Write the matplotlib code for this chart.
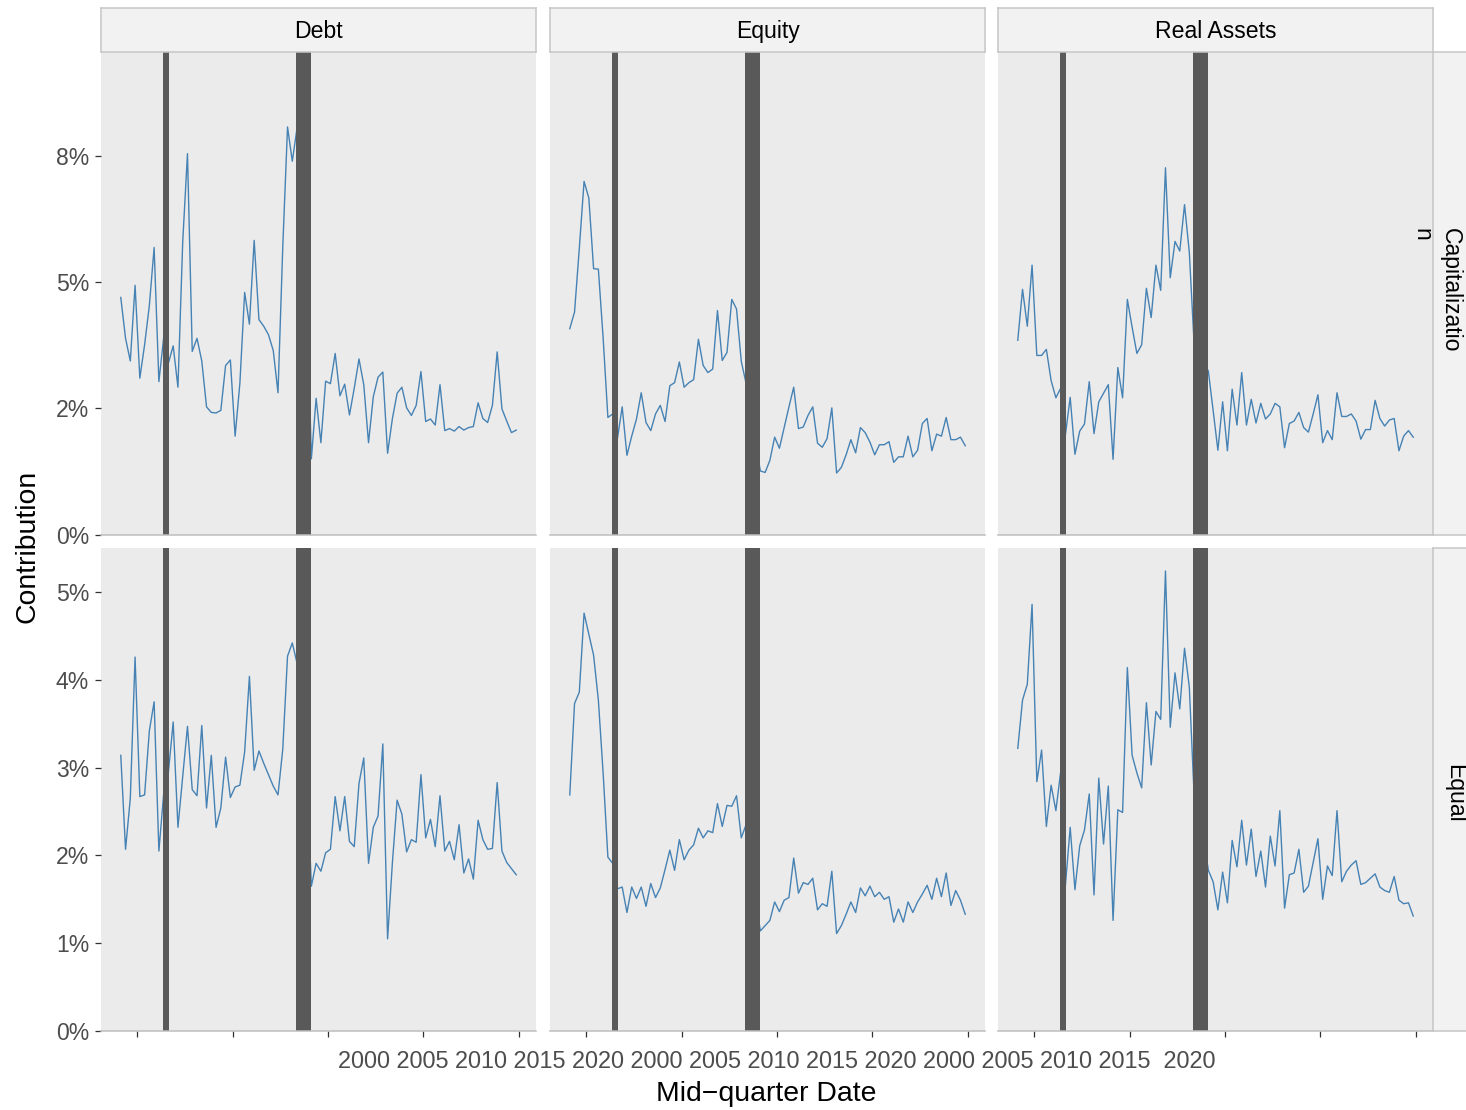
import numpy as np
import matplotlib
matplotlib.use("Agg")
import matplotlib.pyplot as plt
from matplotlib.ticker import FixedLocator, FuncFormatter, NullFormatter

plt.rcParams["font.family"] = ["Liberation Sans", "DejaVu Sans"]

W, H, DPI = 1466, 1110, 100

# ---- data -------------------------------------------------------------
asset_classes = ["Debt", "Equity", "Real Assets"]
weightings = ["Capitalizatio\nn", "Equal"]
year_ticks = [2000, 2005, 2010, 2015, 2020]
first_year = 1999          # first quarter 1999Q1, mid-quarter dates
n_quarters = 84            # through 2019Q4
recessions = [(2001.32, 2001.67), (2008.31, 2009.09)]

# contribution, in percent
debt_cap = [4.70, 3.89, 3.44, 4.94, 3.10, 3.76, 4.54, 5.69, 3.03, 3.90,
            3.40, 3.74, 2.92, 5.80, 7.55, 3.63, 3.89, 3.44, 2.53, 2.42,
            2.41, 2.46, 3.35, 3.46, 1.95, 3.00, 4.80, 4.17, 5.83, 4.26,
            4.13, 3.96, 3.65, 2.81, 5.70, 8.08, 7.40, 8.06, 9.11, 5.00,
            1.50, 2.70, 1.82, 3.04, 2.99, 3.59, 2.75, 2.98, 2.37, 2.90,
            3.48, 2.97, 1.82, 2.73, 3.12, 3.22, 1.61, 2.29, 2.80, 2.92,
            2.51, 2.36, 2.56, 3.23, 2.24, 2.29, 2.17, 2.97, 2.06, 2.10,
            2.05, 2.14, 2.07, 2.12, 2.14, 2.61, 2.30, 2.22, 2.56, 3.62,
            2.49, 2.25, 2.02, 2.07]
equity_cap = [4.08, 4.41, 5.67, 7.00, 6.67, 5.27, 5.26, 3.90, 2.32, 2.39,
              1.90, 2.53, 1.57, 1.95, 2.29, 2.81, 2.22, 2.06, 2.39, 2.56,
              2.24, 2.95, 3.01, 3.42, 2.92, 3.01, 3.07, 3.87, 3.35, 3.21,
              3.28, 4.44, 3.45, 3.61, 4.66, 4.47, 3.43, 3.00, 2.50, 1.80,
              1.26, 1.23, 1.47, 1.93, 1.71, 2.12, 2.53, 2.92, 2.10, 2.13,
              2.36, 2.53, 1.81, 1.73, 1.90, 2.51, 1.22, 1.33, 1.58, 1.88,
              1.62, 2.12, 2.02, 1.83, 1.58, 1.78, 1.78, 1.84, 1.43, 1.54,
              1.54, 1.95, 1.54, 1.67, 2.20, 2.30, 1.66, 1.99, 1.95, 2.32,
              1.88, 1.88, 1.93, 1.76]
real_cap = [3.85, 4.86, 4.13, 5.34, 3.55, 3.55, 3.67, 3.05, 2.71, 2.90,
            1.98, 2.72, 1.59, 2.05, 2.19, 3.03, 2.00, 2.63, 2.80, 2.97,
            1.49, 3.31, 2.71, 4.66, 4.11, 3.59, 3.76, 4.88, 4.30, 5.34,
            4.84, 7.27, 5.09, 5.81, 5.62, 6.54, 5.60, 3.80, 3.60, 3.40,
            3.24, 2.46, 1.67, 2.63, 1.66, 2.88, 2.17, 3.21, 2.17, 2.68,
            2.21, 2.60, 2.29, 2.39, 2.60, 2.53, 1.72, 2.20, 2.25, 2.42,
            2.12, 2.03, 2.39, 2.77, 1.82, 2.06, 1.88, 2.81, 2.34, 2.34,
            2.39, 2.25, 1.89, 2.08, 2.08, 2.66, 2.30, 2.15, 2.27, 2.30,
            1.66, 1.95, 2.06, 1.93]
debt_eq = [3.14, 2.07, 2.65, 4.26, 2.67, 2.69, 3.42, 3.75, 2.05, 2.70,
           2.95, 3.52, 2.32, 2.90, 3.47, 2.75, 2.68, 3.48, 2.54, 3.14,
           2.32, 2.54, 3.12, 2.66, 2.78, 2.80, 3.18, 4.04, 2.97, 3.19,
           3.05, 2.92, 2.79, 2.69, 3.21, 4.27, 4.42, 4.19, 4.00, 3.00,
           1.65, 1.91, 1.82, 2.03, 2.07, 2.67, 2.28, 2.67, 2.16, 2.10,
           2.82, 3.11, 1.91, 2.32, 2.45, 3.27, 1.05, 1.91, 2.63, 2.47,
           2.04, 2.18, 2.15, 2.92, 2.20, 2.41, 2.10, 2.68, 2.05, 2.16,
           1.95, 2.35, 1.80, 1.96, 1.73, 2.40, 2.18, 2.07, 2.08, 2.83,
           2.05, 1.92, 1.85, 1.78]
equity_eq = [2.69, 3.73, 3.86, 4.76, 4.52, 4.28, 3.77, 2.94, 1.98, 1.91,
             1.62, 1.64, 1.35, 1.64, 1.51, 1.64, 1.42, 1.68, 1.52, 1.63,
             1.84, 2.06, 1.83, 2.18, 1.95, 2.06, 2.12, 2.31, 2.20, 2.28,
             2.26, 2.59, 2.33, 2.57, 2.56, 2.68, 2.20, 2.35, 2.00, 1.50,
             1.14, 1.20, 1.26, 1.47, 1.36, 1.49, 1.52, 1.97, 1.57, 1.69,
             1.67, 1.74, 1.38, 1.45, 1.42, 1.82, 1.11, 1.20, 1.33, 1.47,
             1.35, 1.63, 1.54, 1.65, 1.53, 1.58, 1.50, 1.53, 1.24, 1.39,
             1.24, 1.47, 1.35, 1.47, 1.56, 1.66, 1.50, 1.74, 1.53, 1.80,
             1.43, 1.60, 1.49, 1.33]
real_eq = [3.22, 3.77, 3.95, 4.86, 2.84, 3.20, 2.33, 2.80, 2.51, 2.95,
           1.66, 2.32, 1.61, 2.11, 2.29, 2.70, 1.55, 2.88, 2.13, 2.79,
           1.26, 2.52, 2.49, 4.14, 3.14, 2.94, 2.77, 3.74, 3.03, 3.64,
           3.55, 5.24, 3.46, 4.08, 3.67, 4.36, 3.92, 2.70, 2.60, 2.20,
           1.83, 1.70, 1.38, 1.81, 1.46, 2.17, 1.87, 2.40, 1.89, 2.30,
           1.76, 2.05, 1.64, 2.22, 1.88, 2.51, 1.40, 1.78, 1.80, 2.07,
           1.58, 1.65, 1.92, 2.19, 1.50, 1.88, 1.77, 2.51, 1.70, 1.82,
           1.89, 1.94, 1.67, 1.69, 1.74, 1.79, 1.64, 1.60, 1.58, 1.76,
           1.49, 1.45, 1.46, 1.31]

series = [[debt_cap, equity_cap, real_cap],
          [debt_eq, equity_eq, real_eq]]
y_ticks = [[0, 2.5, 5, 7.5], [0, 1, 2, 3, 4, 5]]

dates = first_year + 0.125 + 0.25 * np.arange(n_quarters)

# ---- layout (pixel boxes) ---------------------------------------------
col_x = [(101, 536), (550, 985), (998, 1433)]
row_y = [(52, 534.5), (548, 1031)]
strip_top = (7.5, 52)
strip_right = (1433, 1482)


def box(x0, y0, x1, y1):
    return [x0 / W, 1 - y1 / H, (x1 - x0) / W, (y1 - y0) / H]


fig = plt.figure(figsize=(W / DPI, H / DPI), dpi=DPI)
fig.patch.set_facecolor("white")

PANEL_BG = "#EBEBEB"
STRIP_BG = "#F2F2F2"
STRIP_EDGE = "#C6C6C6"
LINE_COL = "#4682B4"
BAR_COL = "#595959"
TICK_TXT = "#4D4D4D"
TICK_COL = "#333333"
FS_TICK = 16.6
FS_TITLE = 20.4

span = dates[-1] - dates[0]
x_lim = (dates[0] - 0.05 * span, dates[-1] + 0.05 * span)


def pct(v, _pos=None):
    return f"{round(v)}%"


for r in range(2):
    top = 1.05 * max(max(s) for s in series[r])
    for c in range(3):
        ax = fig.add_axes(box(col_x[c][0], row_y[r][0], col_x[c][1], row_y[r][1]))
        ax.set_facecolor(PANEL_BG)
        ax.plot(dates, series[r][c], color=LINE_COL, lw=1.0, zorder=2)
        for a, b in recessions:
            ax.axvspan(a, b, color=BAR_COL, lw=0, zorder=3)
        ax.set_xlim(*x_lim)
        ax.set_ylim(0, top)
        for s in ("top", "left", "right"):
            ax.spines[s].set_visible(False)
        ax.spines["bottom"].set_color("#BEBEBE")
        ax.spines["bottom"].set_linewidth(1.1)
        ax.spines["bottom"].set_zorder(4)

        ax.xaxis.set_major_locator(FixedLocator(year_ticks))
        ax.xaxis.set_major_formatter(NullFormatter())
        if r == 1:
            ax.tick_params(axis="x", length=4.3, width=0.9, color=TICK_COL)
        else:
            ax.tick_params(axis="x", length=0)

        ax.yaxis.set_major_locator(FixedLocator(y_ticks[r]))
        if c == 0:
            ax.yaxis.set_major_formatter(FuncFormatter(pct))
            ax.tick_params(axis="y", length=4.3, width=0.9, color=TICK_COL,
                           labelsize=FS_TICK, labelcolor=TICK_TXT, pad=4.3)
        else:
            ax.yaxis.set_major_formatter(NullFormatter())
            ax.tick_params(axis="y", length=0)

# column strips
for c, name in enumerate(asset_classes):
    sa = fig.add_axes(box(col_x[c][0], strip_top[0], col_x[c][1], strip_top[1]))
    sa.set_facecolor(STRIP_BG)
    sa.set_xticks([])
    sa.set_yticks([])
    for sp in sa.spines.values():
        sp.set_color(STRIP_EDGE)
        sp.set_linewidth(1.1)
    sa.text(0.5, 0.45, name, transform=sa.transAxes, ha="center", va="center",
            fontsize=FS_TICK, color="black")

# row strips
for r in range(2):
    sa = fig.add_axes(box(strip_right[0], row_y[r][0], strip_right[1], row_y[r][1]))
    sa.set_facecolor(STRIP_BG)
    sa.set_xticks([])
    sa.set_yticks([])
    for sp in sa.spines.values():
        sp.set_color(STRIP_EDGE)
        sp.set_linewidth(1.1)

fig.text(1462 / W, 1 - 290 / H, weightings[0], rotation=-90,
         rotation_mode="anchor", ha="center", va="top", multialignment="left",
         linespacing=1.3, fontsize=FS_TICK, color="black", zorder=10)
fig.text(1455 / W, 1 - 793 / H, weightings[1], rotation=-90,
         ha="center", va="center", fontsize=FS_TICK, color="black", zorder=10)

# date labels along the bottom
labels = [str(y) for y in year_ticks] * len(asset_classes)
date_text = " ".join(labels[:-1]) + "  " + labels[-1]
fig.text(776.5 / W, 1 - 1061 / H, date_text, ha="center", va="center",
         fontsize=16.9, color=TICK_TXT)

# axis titles
fig.text(766.5 / W, 1 - 1094 / H, "Mid\u2212quarter Date", ha="center",
         va="center", fontsize=FS_TITLE, color="black")
fig.text(28 / W, 1 - 546 / H, "Contribution", rotation=90, ha="center",
         va="center", fontsize=FS_TITLE, color="black")

fig.savefig("out.png", dpi=DPI, facecolor="white")
